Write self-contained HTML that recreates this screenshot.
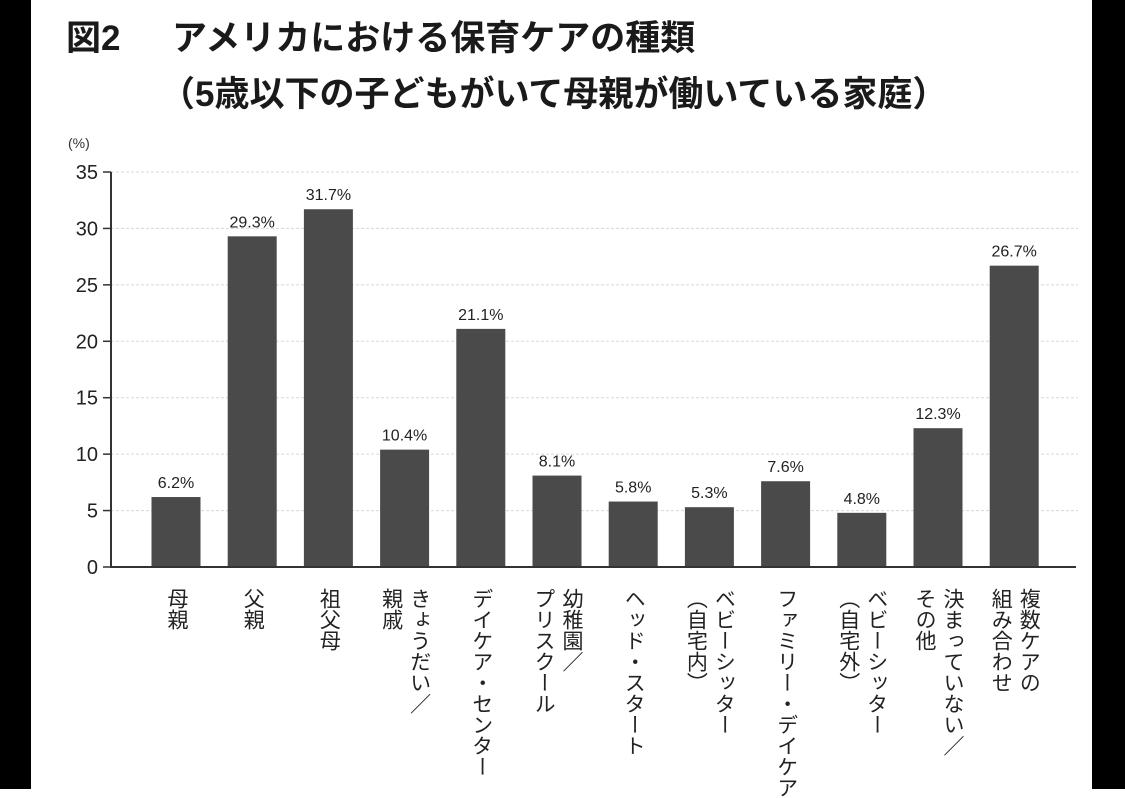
<!DOCTYPE html>
<html><head><meta charset="utf-8">
<style>
html,body{margin:0;padding:0;}
body{width:1125px;height:789px;position:relative;background:#fff;overflow:hidden;font-family:"Liberation Sans","Noto Sans CJK JP",sans-serif;color:#222;}
.blk{position:absolute;top:0;height:789px;background:#000;}
.title{position:absolute;font-family:"Liberation Sans","Noto Sans CJK JP",sans-serif;font-weight:bold;font-size:35px;line-height:40px;white-space:nowrap;color:#1a1a1a;}
.vl{position:absolute;top:588px;writing-mode:vertical-rl;font-size:21px;line-height:28px;white-space:nowrap;transform:translateX(-50%);color:#222;font-family:"Liberation Sans","Noto Sans CJK JP",sans-serif;}
</style></head><body>
<div class="blk" style="left:0;width:31px"></div>
<div class="blk" style="left:1092px;width:33px"></div>
<div class="title" style="left:66px;top:19px">図2</div>
<div class="title" style="left:172px;top:19px">アメリカにおける保育ケアの種類</div>
<div class="title" style="left:160px;top:75px">（5歳以下の子どもがいて母親が働いている家庭）</div>
<svg id="chart" width="1125" height="789" style="position:absolute;left:0;top:0"></svg>
<div id="labels"></div>
<script>
const categories=["母親","父親","祖父母","きょうだい／<br>親戚","デイケア・センター","幼稚園／<br>プリスクール","ヘッド・スタート","ベビーシッター<br>（自宅内）","ファミリー・デイケア","ベビーシッター<br>（自宅外）","決まっていない／<br>その他","複数ケアの<br>組み合わせ"];
const values=[6.2,29.3,31.7,10.4,21.1,8.1,5.8,5.3,7.6,4.8,12.3,26.7];
const valueLabels=["6.2%","29.3%","31.7%","10.4%","21.1%","8.1%","5.8%","5.3%","7.6%","4.8%","12.3%","26.7%"];
const yTicks=[0,5,10,15,20,25,30,35];

const NS="http://www.w3.org/2000/svg";
const svg=document.getElementById('chart');
const x0=111,x1=1078,yBase=567,yTop=172,yMax=35;
const y=v=>yBase-(v/yMax)*(yBase-yTop);
const step=76.2,firstC=176,bw=49;
const xc=i=>firstC+i*step;
function mk(t,a){const e=document.createElementNS(NS,t);for(const k in a)e.setAttribute(k,a[k]);svg.appendChild(e);return e;}

yTicks.forEach(t=>{
  if(t>0){const g=mk('line',{x1:x0,x2:x1,y1:y(t),y2:y(t),stroke:'#d8d8d8','stroke-width':1,'stroke-dasharray':'3,2'});
  
  }
  const tk=mk('line',{x1:x0-8,x2:x0,y1:y(t),y2:y(t),stroke:'#333','stroke-width':1.5});
  
  
  const tx=mk('text',{x:98,y:y(t)+7,'text-anchor':'end','font-size':20,fill:'#222','font-family':'Liberation Sans, sans-serif'});
  tx.textContent=t;
  
  
});
const unit=mk('text',{x:68,y:148,'font-size':14,fill:'#333','font-family':'Liberation Sans, sans-serif'});
unit.textContent='(%)';



values.forEach((v,i)=>{
  const r=mk('rect',{x:xc(i)-bw/2,y:y(v),width:bw,height:yBase-y(v),fill:'#4a4a4a'});
  
  
  const t=mk('text',{x:xc(i),y:y(v)-9,'text-anchor':'middle','font-size':16,fill:'#222','font-family':'Liberation Sans, sans-serif'});
  t.textContent=valueLabels[i];
  
  
});
const ya=mk('line',{x1:x0,x2:x0,y1:yTop,y2:yBase+1,stroke:'#333','stroke-width':2});


const xa=mk('line',{x1:x0,x2:1076,y1:yBase,y2:yBase,stroke:'#333','stroke-width':2});



const lab=document.getElementById('labels');
categories.forEach((c,i)=>{
  const d=document.createElement('div');
  d.className='vl';
  d.style.left=xc(i)+'px';
  d.innerHTML=c;
  
  
  lab.appendChild(d);
});
</script>
</body></html>
